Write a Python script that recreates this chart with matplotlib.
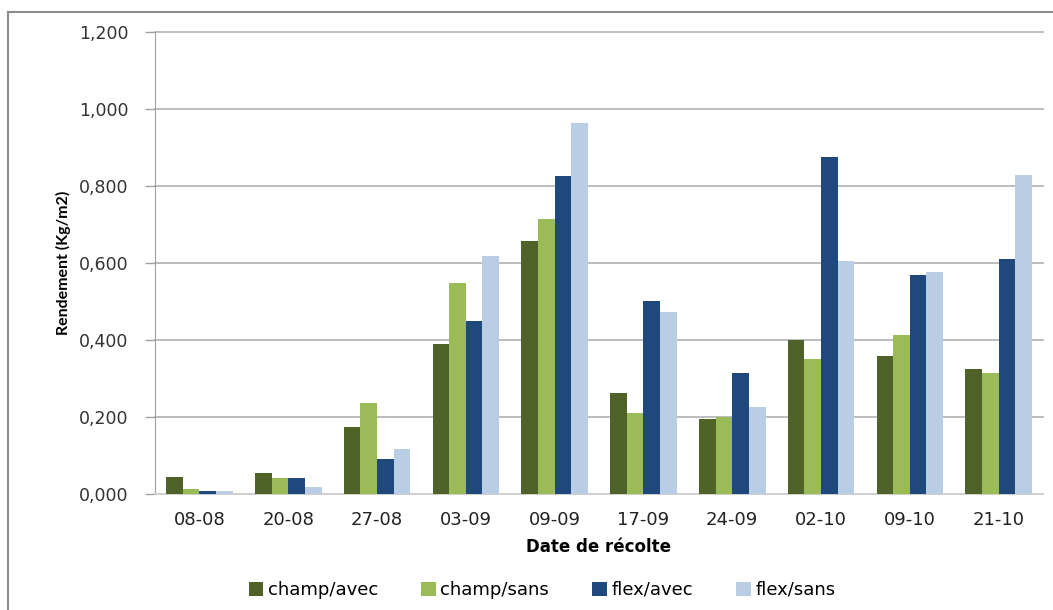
import matplotlib.pyplot as plt
import numpy as np
from matplotlib.lines import Line2D

# data
dates = ['08-08', '20-08', '27-08', '03-09', '09-09', '17-09', '24-09', '02-10', '09-10', '21-10']
champ_avec = [0.045, 0.054, 0.174, 0.389, 0.656, 0.263, 0.194, 0.400, 0.359, 0.324]
champ_sans = [0.012, 0.041, 0.237, 0.547, 0.715, 0.209, 0.201, 0.350, 0.413, 0.313]
flex_avec = [0.009, 0.041, 0.090, 0.449, 0.825, 0.502, 0.313, 0.876, 0.568, 0.609]
flex_sans = [0.009, 0.017, 0.116, 0.619, 0.964, 0.472, 0.227, 0.606, 0.575, 0.828]
series_names = ['champ/avec', 'champ/sans', 'flex/avec', 'flex/sans']
colors = ['#4F6228', '#9BBB59', '#1F497D', '#B9CDE5']

plt.rcParams['font.family'] = ['DejaVu Sans']

fig = plt.figure(figsize=(10.53, 6.10), dpi=100)
ax = fig.add_axes([155 / 1053, 1 - 494 / 610, (1043 - 155) / 1053, (494 - 31.7) / 610])

x = np.arange(len(dates))
w = 0.1875
for i, (vals, name, c) in enumerate(zip([champ_avec, champ_sans, flex_avec, flex_sans], series_names, colors)):
    ax.bar(x + (i - 1.5) * w, vals, w, color=c, label=name, zorder=3)

ax.set_xlim(-0.5, len(dates) - 0.5)
ax.set_ylim(0, 1.2)
ax.set_yticks(np.arange(0, 1.21, 0.2))
ax.set_yticklabels([('%.3f' % v).replace('.', ',') for v in np.arange(0, 1.21, 0.2)], fontsize=12.5, color='#333333')
ax.set_xticks(x)
ax.set_xticklabels(dates, fontsize=13, color='#222222')
ax.tick_params(axis='x', length=0, pad=12)
ax.tick_params(axis='y', length=7, color='#A0A0A0', width=1, pad=12)
ax.grid(axis='y', color='#BDBDBD', linewidth=1.4, zorder=0)
for gl in ax.get_ygridlines():
    gl.set_clip_on(False)   # keep the top gridline full width
ax.set_axisbelow(True)
for s in ['top', 'right']:
    ax.spines[s].set_visible(False)
ax.spines['left'].set_color('#A0A0A0')
ax.spines['bottom'].set_color('#D0D0D0')
ax.spines['bottom'].set_linewidth(1.4)

ax.set_xlabel('Date de récolte', fontsize=12, fontweight='bold', labelpad=7)
ax.set_ylabel('Rendement (Kg/m2)', fontsize=11.5, fontweight='bold', labelpad=6, family='Lato')

fig.legend(loc='center', bbox_to_anchor=(542 / 1053, 1 - 590 / 610), ncol=4, frameon=False,
           fontsize=13, handlelength=0.8, handleheight=0.8, handletextpad=0.25, columnspacing=2.4)

# outer chart border (left and top edges visible)
fig.add_artist(Line2D([8 / 1053, 8 / 1053], [0, 1 - 12 / 610], color='#8C8C8C', linewidth=1.5))
fig.add_artist(Line2D([8 / 1053, 1], [1 - 12 / 610, 1 - 12 / 610], color='#8C8C8C', linewidth=1.5))

plt.savefig('out.png', dpi=100)
